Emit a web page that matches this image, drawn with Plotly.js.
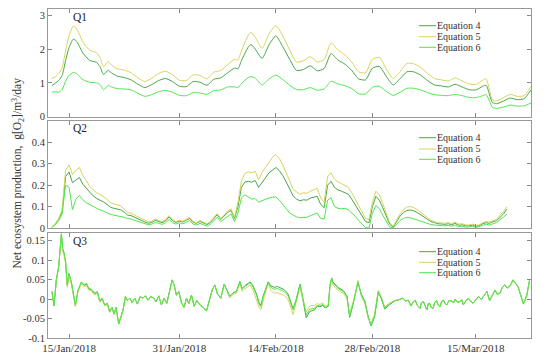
<!DOCTYPE html>
<html><head><meta charset="utf-8">
<script src="https://cdn.plot.ly/plotly-3.0.1.min.js"></script>
<style>html,body{margin:0;padding:0;background:#fff}#chart{width:550px;height:361px}</style>
</head><body><div id="chart"></div>
<script>
// x values: days after 15/Jan/2018
const tickDays = [0, 16, 30, 44, 59];
const tickLabels = ['15/Jan/2018', '31/Jan/2018', '14/Feb/2018', '28/Feb/2018', '15/Mar/2018'];
const seriesNames = ['Equation 4', 'Equation 5', 'Equation 6'];

// Q1
const q1Days = [-2.5,-2,-1.5,-1,-0.5,0,0.6,1,1.5,2, 3,4,4.5,5,5.7,6,7,8,9,10,
  11,12,13,14,15,16,17,18,19,20, 21,22,23,24,24.5,25,26,26.4,27,28,
  29,30,31,32,33,34,35,36,37,38, 39,40,41,42,43,44,45,46,47,48,
  49,50,51,52,53,54,55,56,57,58, 59,60,60.5,61,61.4,62,63,64,65,66, 67];
const q1Eq4 = [0.92,0.99,1.07,1.22,1.66,2.05,2.30,2.26,2.09,1.89,
  1.67,1.61,1.48,1.25,1.38,1.32,1.20,1.16,1.09,0.96,
  0.86,0.95,1.07,1.13,1.04,0.90,0.89,1.04,1.02,0.93,
  1.11,1.15,1.30,1.44,1.42,1.66,2.07,2.14,2.01,1.73,
  2.13,2.40,2.08,1.70,1.37,1.40,1.51,1.36,1.43,1.87,
  1.68,1.56,1.37,1.12,1.09,1.44,1.49,1.20,0.94,1.12,
  1.33,1.33,1.23,1.07,0.94,0.91,0.88,0.96,0.88,0.80,
  0.79,0.90,0.93,0.64,0.42,0.38,0.46,0.55,0.50,0.53, 0.79];
const q1Eq5 = [1.13,1.18,1.28,1.45,1.95,2.40,2.69,2.64,2.45,2.22,
  1.97,1.90,1.75,1.48,1.63,1.56,1.42,1.38,1.30,1.15,
  1.04,1.14,1.28,1.35,1.24,1.08,1.07,1.24,1.22,1.12,
  1.32,1.37,1.54,1.70,1.68,1.95,2.42,2.50,2.36,2.03,
  2.45,2.71,2.40,1.98,1.62,1.66,1.78,1.62,1.70,2.19,
  1.98,1.84,1.62,1.33,1.30,1.70,1.76,1.42,1.13,1.33,
  1.58,1.57,1.46,1.28,1.13,1.09,1.06,1.15,1.06,0.97,
  0.95,1.08,1.12,0.78,0.50,0.46,0.56,0.66,0.60,0.62, 0.89];
const q1Eq6 = [0.72,0.74,0.72,0.80,1.05,1.22,1.31,1.29,1.20,1.10,
  1.02,1.00,0.95,0.80,0.93,0.89,0.83,0.82,0.79,0.69,
  0.60,0.65,0.74,0.78,0.72,0.63,0.62,0.71,0.70,0.66,
  0.77,0.79,0.88,0.88,0.86,0.98,1.16,1.19,1.14,0.94,
  1.12,1.23,1.10,0.93,0.80,0.80,0.86,0.78,0.82,1.05,
  0.97,0.92,0.83,0.68,0.67,0.87,0.90,0.75,0.63,0.72,
  0.84,0.84,0.79,0.71,0.65,0.63,0.62,0.66,0.62,0.57,
  0.56,0.62,0.65,0.45,0.27,0.24,0.28,0.34,0.31,0.32, 0.40];

// Q2
const q2Days = [-2.5,-2,-1.5,-1,-0.5,0,0.5,1,1.5,2,
  2.5,3,3.5,4,4.5,5,5.5,6,6.5,7,
  7.5,8,8.5,9,9.5,10,10.5,11,11.5,12,
  12.5,13,13.5,14,14.5,15,15.5,16,16.5,17,
  17.5,18,18.5,19,19.5,20,20.5,21,21.5,22,
  22.5,23,23.5,24,24.5,25,25.5,26,26.5,27,
  27.5,28,28.5,29,29.5,30,30.5,31,31.5,32,
  32.5,33,33.5,34,34.5,35,35.5,36,36.5,37,
  37.5,38,38.5,39,39.5,40,40.5,41,41.5,42,
  42.5,43,43.5,44,44.5,45,45.5,46,46.5,47,
  47.5,48,48.5,49,49.5,50,50.5,51,51.5,52,
  52.5,53,53.5,54,54.5,55,55.5,56,56.5,57,
  57.5,58,58.5,59,59.5,60,60.5,61,61.5,62,
  62.5,63,63.5];
const q2Eq4 = [0.004,0.018,0.04,0.075,0.24,0.262,0.212,0.225,0.236,0.205,
  0.185,0.165,0.15,0.138,0.13,0.122,0.11,0.097,0.092,0.088,
  0.085,0.074,0.06,0.058,0.05,0.043,0.036,0.028,0.022,0.026,
  0.036,0.03,0.025,0.033,0.052,0.035,0.026,0.032,0.028,0.036,
  0.045,0.026,0.022,0.031,0.024,0.016,0.026,0.045,0.062,0.04,
  0.055,0.072,0.082,0.044,0.1,0.19,0.215,0.218,0.214,0.222,
  0.19,0.215,0.235,0.258,0.272,0.283,0.268,0.245,0.215,0.18,
  0.15,0.135,0.127,0.132,0.13,0.14,0.145,0.148,0.11,0.095,
  0.2,0.218,0.19,0.178,0.172,0.166,0.158,0.135,0.108,0.078,
  0.052,0.03,0.025,0.1,0.148,0.13,0.095,0.055,0.018,0.004,
  0.032,0.055,0.072,0.082,0.084,0.08,0.072,0.063,0.052,0.04,
  0.03,0.025,0.02,0.019,0.017,0.02,0.015,0.022,0.013,0.015,
  0.01,0.01,0.014,0.008,0.011,0.02,0.025,0.022,0.03,0.034,
  0.05,0.065,0.088];
const q2Eq5 = [0.005,0.02,0.045,0.085,0.27,0.295,0.25,0.27,0.283,0.245,
  0.222,0.195,0.178,0.165,0.157,0.148,0.135,0.118,0.112,0.108,
  0.104,0.09,0.072,0.07,0.06,0.052,0.045,0.035,0.028,0.032,
  0.042,0.035,0.03,0.038,0.058,0.04,0.03,0.036,0.032,0.04,
  0.05,0.03,0.025,0.035,0.028,0.02,0.03,0.05,0.068,0.045,
  0.06,0.08,0.09,0.05,0.12,0.22,0.255,0.262,0.258,0.265,
  0.225,0.26,0.285,0.31,0.33,0.344,0.325,0.295,0.26,0.22,
  0.18,0.17,0.158,0.165,0.162,0.172,0.18,0.185,0.14,0.12,
  0.24,0.258,0.228,0.215,0.208,0.2,0.19,0.165,0.135,0.1,
  0.07,0.045,0.04,0.12,0.172,0.155,0.115,0.07,0.025,0.008,
  0.04,0.065,0.085,0.098,0.1,0.095,0.085,0.075,0.062,0.048,
  0.036,0.03,0.025,0.024,0.022,0.025,0.02,0.028,0.018,0.02,
  0.015,0.014,0.018,0.012,0.015,0.025,0.03,0.028,0.035,0.04,
  0.06,0.075,0.1];
const q2Eq6 = [0.003,0.015,0.035,0.065,0.2,0.19,0.085,0.135,0.152,0.132,
  0.118,0.108,0.1,0.092,0.085,0.078,0.07,0.064,0.06,0.057,
  0.054,0.05,0.044,0.042,0.036,0.03,0.025,0.02,0.015,0.018,
  0.026,0.022,0.017,0.024,0.04,0.025,0.018,0.024,0.02,0.026,
  0.035,0.018,0.014,0.022,0.016,0.008,0.018,0.035,0.05,0.03,
  0.042,0.058,0.066,0.03,0.07,0.14,0.155,0.145,0.135,0.138,
  0.12,0.128,0.135,0.14,0.144,0.145,0.13,0.11,0.09,0.07,
  0.06,0.052,0.048,0.05,0.05,0.058,0.065,0.07,0.045,0.042,
  0.13,0.142,0.1,0.092,0.09,0.092,0.085,0.07,0.055,0.035,
  0.018,0.002,0.0,0.07,0.105,0.09,0.06,0.03,0.005,0.0,
  0.02,0.035,0.045,0.05,0.048,0.043,0.036,0.03,0.025,0.02,
  0.016,0.014,0.012,0.011,0.01,0.012,0.008,0.014,0.006,0.008,
  0.004,0.005,0.008,0.003,0.006,0.012,0.018,0.014,0.02,0.025,
  0.04,0.05,0.065];

// Q3
const q3Days = [-2.47,-2.18,-1.84,-1.5,-1.11,-0.92,-0.73,-0.49,-0.25,0.0,
  0.34,0.63,0.92,1.3,1.79,2.18,2.52,2.86,3.24,3.73,
  4.11,4.45,4.79,5.18,5.56,5.9,6.24,6.53,6.82,7.21,
  7.5,7.84,8.18,8.47,8.81,9.15,9.53,9.92,10.3,10.69,
  11.08,11.46,11.85,12.24,12.63,13.01,13.4,13.79,14.18,14.56,
  14.95,15.24,15.58,15.92,16.3,16.69,17.03,17.37,17.76,18.14,
  18.53,18.97,19.45,19.93,20.32,20.76,21.14,21.53,22.01,22.5,
  22.88,23.32,23.8,24.29,24.77,25.11,25.5,25.89,26.27,26.71,
  27.19,27.53,27.82,28.16,28.5,28.89,29.27,29.76,30.24,30.72,
  31.2,31.69,31.9,32.5,32.9,33.5,33.9,34.4,34.9,35.6,
  36.0,36.4,36.8,37.1,37.6,37.85,38.1,38.3,38.6,39.0,
  39.4,39.8,40.3,40.7,41.2,41.7,41.9,42.4,42.9,43.4,
  43.8,44.3,44.6,44.85,45.3,45.8,46.3,46.6,47.0,47.3,
  47.7,48.0,48.4,48.8,49.2,49.6,49.9,50.2,50.5,50.9,
  51.1,51.4,51.65,51.9,52.1,52.3,52.55,52.8,53.05,53.3,
  53.55,53.8,54.05,54.3,54.55,54.8,55.1,55.5,55.75,56.0,
  56.35,56.7,56.95,57.2,57.55,57.9,58.25,58.6,59.0,59.4,
  59.8,60.2,60.6,61.0,61.4,61.8,62.1,62.5,62.85,63.2,
  63.55,63.9,64.15,64.4,64.65,64.9,65.15,65.4,65.65,65.9,
  66.15,66.4,66.6,66.8];
const q3Eq4 = [0.019,-0.018,0.049,0.083,0.167,0.128,0.117,0.094,0.034,0.064,
  0.042,0.012,-0.017,0.021,0.043,0.035,0.039,0.026,0.024,0.014,
  0.018,-0.005,0.001,-0.016,-0.012,-0.033,-0.022,-0.039,-0.022,-0.064,
  -0.045,-0.028,0.006,-0.004,0.002,-0.009,0.002,-0.013,0.006,0.002,
  0.008,-0.003,0.006,0.003,-0.007,0.008,-0.015,0.002,-0.011,0.019,
  0.049,0.036,0.01,0.019,-0.009,-0.021,0.002,-0.011,0.01,-0.018,
  -0.004,-0.015,-0.021,-0.031,-0.007,0.023,0.036,0.013,0.002,0.038,
  0.024,0.007,0.016,0.02,0.045,0.027,0.034,0.04,0.044,0.033,
  0.013,-0.008,-0.016,0.008,0.025,0.044,0.034,0.03,0.032,0.028,
  0.024,0.015,0.006,-0.025,-0.004,0.038,0.003,-0.048,-0.032,-0.028,
  -0.018,-0.02,-0.016,-0.023,-0.019,0.036,0.054,0.042,0.038,0.029,
  0.026,0.021,0.008,-0.047,-0.013,0.021,0.042,0.012,-0.005,-0.046,
  -0.069,-0.047,-0.009,0.017,0.0,-0.026,-0.017,-0.013,-0.008,-0.004,
  -0.003,0.0,0.002,-0.005,-0.003,-0.018,-0.008,-0.003,-0.016,-0.024,
  -0.01,-0.007,-0.02,-0.028,-0.012,-0.011,-0.022,-0.024,-0.008,-0.004,
  -0.016,-0.02,-0.006,-0.003,-0.012,-0.015,-0.004,-0.005,-0.01,-0.001,
  -0.008,-0.007,-0.002,-0.015,-0.005,0.002,-0.006,-0.011,-0.002,0.006,
  -0.001,0.008,0.019,-0.004,0.01,0.023,0.012,0.015,0.03,0.036,
  0.028,0.033,0.04,0.049,0.042,0.038,0.03,0.015,0.002,-0.013,
  -0.002,0.01,0.03,0.049];
const q3Eq5 = [0.019,-0.018,0.049,0.083,0.165,0.122,0.113,0.09,0.03,0.06,
  0.038,0.008,-0.02,0.018,0.04,0.031,0.035,0.022,0.02,0.01,
  0.015,-0.008,-0.002,-0.018,-0.014,-0.035,-0.024,-0.04,-0.023,-0.065,
  -0.045,-0.028,0.006,-0.004,0.002,-0.009,0.002,-0.013,0.006,0.002,
  0.008,-0.003,0.006,0.003,-0.007,0.008,-0.015,0.002,-0.011,0.019,
  0.047,0.034,0.008,0.017,-0.011,-0.023,0.0,-0.013,0.008,-0.02,
  -0.004,-0.015,-0.021,-0.031,-0.007,0.023,0.036,0.013,0.002,0.038,
  0.02,0.003,0.012,0.015,0.04,0.02,0.026,0.032,0.036,0.022,
  0.0,-0.02,-0.027,-0.002,0.018,0.04,0.022,0.015,0.016,0.012,
  0.01,0.0,-0.008,-0.04,-0.012,0.03,0.0,-0.033,-0.018,-0.016,
  -0.012,-0.014,-0.01,-0.018,-0.016,0.032,0.05,0.036,0.03,0.022,
  0.018,0.014,0.002,-0.038,-0.008,0.025,0.048,0.006,-0.012,-0.05,
  -0.062,-0.04,-0.004,0.022,0.005,-0.021,-0.012,-0.009,-0.005,-0.003,
  -0.003,0.0,0.002,-0.005,-0.003,-0.018,-0.008,-0.003,-0.016,-0.024,
  -0.01,-0.007,-0.02,-0.028,-0.012,-0.011,-0.022,-0.024,-0.008,-0.004,
  -0.016,-0.02,-0.006,-0.003,-0.012,-0.015,-0.004,-0.005,-0.01,-0.001,
  -0.008,-0.007,-0.002,-0.015,-0.005,0.002,-0.006,-0.011,-0.002,0.006,
  -0.001,0.008,0.019,-0.004,0.01,0.023,0.012,0.015,0.03,0.036,
  0.028,0.033,0.04,0.049,0.042,0.038,0.03,0.015,0.002,-0.013,
  -0.002,0.01,0.03,0.049];
const q3Eq6 = [0.019,-0.018,0.049,0.083,0.167,0.13,0.119,0.096,0.036,0.066,
  0.044,0.015,-0.015,0.023,0.044,0.036,0.04,0.027,0.025,0.015,
  0.019,-0.004,0.002,-0.015,-0.011,-0.032,-0.021,-0.038,-0.021,-0.064,
  -0.045,-0.028,0.006,-0.004,0.002,-0.009,0.002,-0.013,0.006,0.002,
  0.008,-0.003,0.006,0.003,-0.007,0.008,-0.015,0.002,-0.011,0.019,
  0.049,0.036,0.01,0.019,-0.009,-0.021,0.002,-0.011,0.01,-0.018,
  -0.004,-0.015,-0.021,-0.031,-0.007,0.023,0.036,0.013,0.002,0.038,
  0.023,0.006,0.015,0.019,0.044,0.025,0.032,0.038,0.042,0.03,
  0.01,-0.011,-0.02,0.006,0.023,0.042,0.03,0.025,0.027,0.023,
  0.019,0.01,0.002,-0.028,-0.007,0.036,0.006,-0.041,-0.026,-0.024,
  -0.016,-0.018,-0.014,-0.022,-0.018,0.036,0.053,0.04,0.036,0.027,
  0.024,0.019,0.006,-0.044,-0.011,0.023,0.044,0.01,-0.007,-0.047,
  -0.067,-0.045,-0.007,0.019,0.002,-0.024,-0.015,-0.012,-0.007,-0.004,
  -0.003,0.0,0.002,-0.005,-0.003,-0.018,-0.008,-0.003,-0.016,-0.024,
  -0.01,-0.007,-0.02,-0.028,-0.012,-0.011,-0.022,-0.024,-0.008,-0.004,
  -0.016,-0.02,-0.006,-0.003,-0.012,-0.015,-0.004,-0.005,-0.01,-0.001,
  -0.008,-0.007,-0.002,-0.015,-0.005,0.002,-0.006,-0.011,-0.002,0.006,
  -0.001,0.008,0.019,-0.004,0.01,0.023,0.012,0.015,0.03,0.036,
  0.028,0.033,0.04,0.049,0.042,0.038,0.03,0.015,0.002,-0.013,
  -0.002,0.01,0.03,0.049];

const colors = ['#45a845', '#d8d35c', '#4de84d'];
const FONT = 'Liberation Serif';
const panels = [
  {days: q1Days, ys: [q1Eq4, q1Eq5, q1Eq6], xa: 'x', ya: 'y', shape: 'spline'},
  {days: q2Days, ys: [q2Eq4, q2Eq5, q2Eq6], xa: 'x2', ya: 'y2', shape: 'linear'},
  {days: q3Days, ys: [q3Eq4, q3Eq5, q3Eq6], xa: 'x3', ya: 'y3', shape: 'linear'}
];
const traces = [];
panels.forEach(p => {
  p.ys.forEach((ys, i) => {
    traces.push({x: p.days, y: ys, type: 'scatter', mode: 'lines', name: seriesNames[i],
      xaxis: p.xa, yaxis: p.ya, showlegend: false, hoverinfo: 'skip',
      line: {color: colors[i], width: 1, shape: p.shape, smoothing: 0.6}});
  });
});

const H = 329, TOP = 9, L = 48, W = 483;
const py = px => (TOP + H - px) / H;
const pxX = px => (px - L) / W;

const baseX = {range: [-3.05, 67.0], tickvals: tickDays, ticktext: tickLabels, ticks: 'inside', ticklen: 4,
  tickcolor: '#888', showline: true, linecolor: '#999', linewidth: 1, mirror: 'ticks', showgrid: false,
  zeroline: false, tickfont: {family: FONT, size: 11, color: '#333'}};
const baseY = {ticks: 'inside', ticklen: 4, tickcolor: '#888', showline: true, linecolor: '#999', linewidth: 1,
  mirror: 'ticks', showgrid: false, zeroline: false, tickfont: {family: FONT, size: 10.5, color: '#333'}};

const annotations = [];
const shapes = [];
const qLabels = ['Q1', 'Q2', 'Q3'];
const qY = [16.7, 127.5, 241];
const legY = [[25.7, 36.7, 47.3], [137.7, 149, 159.3], [251.7, 262.3, 272.7]];
qLabels.forEach((q, k) => {
  annotations.push({xref: 'paper', yref: 'paper', x: pxX(71), y: py(qY[k]), xanchor: 'left', yanchor: 'middle',
    text: q, showarrow: false, font: {family: FONT, size: 11.5, color: '#222'}});
  seriesNames.forEach((n, i) => {
    shapes.push({type: 'line', xref: 'paper', yref: 'paper', x0: pxX(419), x1: pxX(436),
      y0: py(legY[k][i]), y1: py(legY[k][i]), line: {color: colors[i], width: 1}});
    annotations.push({xref: 'paper', yref: 'paper', x: pxX(435), y: py(legY[k][i]), xanchor: 'left', yanchor: 'middle',
      text: n, showarrow: false, font: {family: FONT, size: 10, color: '#333'}});
  });
});
annotations.push({xref: 'paper', yref: 'paper', x: pxX(17), y: py(173.5), xanchor: 'center', yanchor: 'middle',
  textangle: -90, showarrow: false, text: 'Net ecosystem production,  g[O<sub>2</sub>]/m<sup>3</sup>/day',
  font: {family: FONT, size: 11.5, color: '#333'}});

const layout = {
  width: 550, height: 361, margin: {l: L, r: 19, t: TOP, b: 23},
  paper_bgcolor: '#fff', plot_bgcolor: '#fff', showlegend: false,
  font: {family: FONT, size: 10, color: '#333'},
  xaxis: Object.assign({}, baseX, {anchor: 'y', showticklabels: false}),
  xaxis2: Object.assign({}, baseX, {anchor: 'y2', showticklabels: false, matches: 'x'}),
  xaxis3: Object.assign({}, baseX, {anchor: 'y3', matches: 'x'}),
  yaxis: Object.assign({}, baseY, {domain: [py(116.5), 1], range: [0, 3.2], tickvals: [0, 1, 2, 3], ticktext: ['0', '1', '2', '3']}),
  yaxis2: Object.assign({}, baseY, {domain: [py(228), py(121)], range: [0, 0.5], tickvals: [0, 0.1, 0.2, 0.3, 0.4], ticktext: ['0', '0.1', '0.2', '0.3', '0.4']}),
  yaxis3: Object.assign({}, baseY, {domain: [0, py(232.7)], range: [-0.1, 0.17], tickvals: [-0.1, -0.05, 0, 0.05, 0.1, 0.15], ticktext: ['-0.1', '-0.05', '0', '0.05', '0.1', '0.15']}),
  annotations: annotations, shapes: shapes
};
Plotly.newPlot('chart', traces, layout, {staticPlot: true, displayModeBar: false});
</script></body></html>
